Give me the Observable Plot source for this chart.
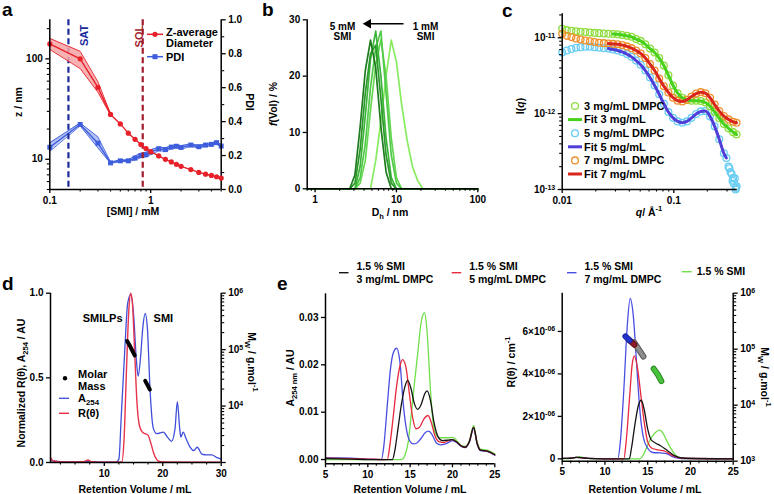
<!DOCTYPE html>
<html><head><meta charset="utf-8">
<script src="https://cdn.jsdelivr.net/npm/d3@7"></script>
<script src="https://cdn.jsdelivr.net/npm/@observablehq/plot@0.6"></script>
<style>
body{margin:0;background:#fff}
#root{position:relative;width:774px;height:494px;overflow:hidden;background:#fff;font-family:"Liberation Sans",Arial,Helvetica,sans-serif;font-weight:bold}
</style>
</head><body><div id="root"></div>
<script>
// ================= DATA =================
// Panel a : DLS vs [SMI]
const smiConc  = [0.1,0.2,0.3,0.4,0.5,0.6,0.7,0.8,0.9,1.0,1.2,1.4,1.6,1.8,2.0,2.5,3.0,3.5,4.0,4.5,5.0];
const zAvg     = [141,100,52,28,22.5,18.2,15.8,14.0,12.8,11.9,10.8,10.0,9.4,8.9,8.5,7.9,7.4,7.1,6.9,6.7,6.5];
const zBandConc= [0.1,0.2,0.3,0.4];
const zHigh    = [160,119,59,28.5];
const zLow     = [124,80,46.5,27.5];
const pdi      = [0.249,0.383,0.273,0.157,0.169,0.169,0.185,0.200,0.205,0.220,0.240,0.235,0.250,0.255,0.248,0.262,0.252,0.262,0.266,0.276,0.256];
const pdiHigh  = [0.275,0.392,0.310,0.162,0.175,0.175,0.198,0.214,0.220,0.234,0.250,0.246,0.258,0.264,0.258,0.270,0.260,0.270,0.274,0.284,0.264];
const pdiLow   = [0.225,0.375,0.245,0.154,0.164,0.164,0.174,0.188,0.192,0.206,0.228,0.225,0.240,0.246,0.238,0.254,0.244,0.254,0.258,0.268,0.248];
const satConc = 0.153, solConc = 0.834;

// Panel b : volume distributions (1 mM -> 5 mM SMI)
const dhBins = [0.8,2.305,2.67,3.091,3.58,4.145,4.801,5.56,6.439,7.456,8.635,10.0,11.58,13.54,15.69,18.17,21.04,100];
const volDist = [
  [0,0,0,2.5,11,21,26.4,21.5,11,3,0,0,0,0,0,0,0,0],
  [0,0,0,1,7,17,24,25.5,16,6,1,0,0,0,0,0,0,0],
  [0,0,0,0,4,13,23,28,20,9,2,0,0,0,0,0,0,0],
  [0,0,0,0,2,8,18,25,28,17,6,1,0,0,0,0,0,0],
  [0,0,0,0,1,5,14,22,26.5,20,9,2,0,0,0,0,0,0],
  [0,0,0,0,0,0,0,5,12,20,26.4,22.5,15,8.6,4,1.5,0,0]
];

// Panel c : SANS, I(q) in units of 1e-12
const qGrid = [0.0100,0.0110,0.0121,0.0133,0.0146,0.0161,0.0177,0.0195,0.0214,0.0236,0.0259,0.0285,0.0314,0.0345,0.0380,0.0418,0.0459,0.0505,0.0556,0.0612,0.0673,0.0740,0.0814,0.0895,0.0985,0.1083,0.1192,0.1311,0.1442,0.1586,0.1745,0.1919,0.2111,0.2322,0.2555,0.2810,0.3091,0.3400,0.3650];
const iq3 = [13.1,12.6,12.4,12.2,12.0,11.9,11.7,11.6,11.5,11.4,11.3,11.2,11.1,10.9,10.6,10.3,9.6,9.1,8.2,7.2,6.4,5.4,4.3,3.2,2.35,1.86,1.62,1.52,1.48,1.48,1.47,1.40,1.25,1.05,0.87,0.73,0.64,0.57,0.53];
const iq5 = [6.4,6.8,7.1,7.4,7.5,7.6,7.6,7.5,7.4,7.3,7.2,7.0,6.8,6.5,6.1,5.6,5.0,4.4,3.7,3.0,2.35,1.8,1.35,1.05,0.88,0.79,0.76,0.79,0.88,0.99,1.07,1.08,0.92,0.68,0.46,0.30,0.20,0.14,0.11];
const iq7 = [11.3,10.6,10.2,9.8,9.5,9.2,9.0,8.8,8.6,8.5,8.4,8.3,8.2,8.0,7.7,7.3,6.8,6.2,5.4,4.5,3.7,2.9,2.3,1.9,1.62,1.48,1.45,1.52,1.68,1.84,1.92,1.86,1.62,1.32,1.08,0.93,0.84,0.78,0.76];
const qTail5 = [0.296,0.315,0.322,0.330,0.336,0.345,0.352,0.358,0.362];
const iqTail5 = [0.26,0.19,0.17,0.16,0.13,0.12,0.14,0.10,0.105];
const fitStart3 = 0.028, fitStart5 = 0.025, fitStart7 = 0.025, fitEnd5 = 0.29;

// Panel d : SEC-MALS of SMILPs  [mL, value]
const dA254 = [[0.8,0.01],[3,0.005],[5,0.003],[7,0.005],[10,0.002],[12,0.002],[12.5,0.02],[12.9,0.27],[13.5,0.66],[14.0,0.94],[14.5,0.99],[15.0,0.88],[15.5,0.6],[15.8,0.51],[16.2,0.62],[16.6,0.8],[17.0,0.88],[17.4,0.78],[17.8,0.45],[18.4,0.2],[19.0,0.17],[20.1,0.18],[20.8,0.15],[21.5,0.125],[22.1,0.2],[22.5,0.36],[22.9,0.2],[23.1,0.15],[23.5,0.18],[24.0,0.14],[24.7,0.09],[25.3,0.07],[25.9,0.09],[26.7,0.05],[27.5,0.045],[28.4,0.045],[29.2,0.03],[30,0.02]];
const dRtheta = [[0.8,0.03],[1.2,0.01],[3,0.003],[6.5,0.005],[7.2,0.015],[7.8,0.005],[10,0.002],[13.0,0.003],[13.4,0.15],[13.8,0.55],[14.2,0.9],[14.5,1.0],[14.8,0.95],[15.2,0.65],[15.6,0.35],[16.0,0.22],[16.5,0.18],[17.0,0.17],[17.5,0.16],[18.0,0.11],[18.5,0.05],[19.2,0.01],[20,0.003],[30,0.002]];
const dMolarSMILP = [[13.9,142000],[14.3,121000],[14.7,100000],[15.2,79000]];
const dMolarSMI   = [[17.0,28000],[17.4,23500],[17.8,19600]];
const dLabels = [{x:9.72,y:0.85,t:"SMILPs"},{x:20.1,y:0.85,t:"SMI"}];

// Panel e : A254 nm [mL, AU]
const eA3 = [[5,0.0002],[8,0.0001],[10,0],[12.9,0],[13.2,0.002],[13.6,0.007],[14.0,0.012],[14.4,0.0155],[14.7,0.0167],[15.1,0.015],[15.5,0.0118],[15.9,0.0106],[16.3,0.0116],[16.7,0.0138],[17.0,0.0145],[17.4,0.0125],[17.8,0.008],[18.3,0.0048],[18.8,0.004],[19.5,0.0041],[20.0,0.0042],[20.5,0.0037],[21.0,0.0029],[21.5,0.0026],[22.0,0.0038],[22.5,0.0068],[22.9,0.0035],[23.3,0.002],[24.1,0.0018],[25,0.001]];
const eA5 = [[5,0.0003],[8,0.0002],[10,0.0001],[12.3,0],[12.6,0.003],[13.0,0.009],[13.4,0.0155],[13.8,0.0198],[14.1,0.0211],[14.5,0.0195],[14.9,0.014],[15.3,0.0088],[15.7,0.0065],[16.1,0.0068],[16.6,0.0085],[17.1,0.0093],[17.5,0.0078],[17.9,0.0052],[18.4,0.0038],[19.0,0.0036],[19.5,0.004],[20,0.0042],[20.5,0.0037],[21,0.0029],[21.5,0.0026],[22,0.0038],[22.5,0.0068],[22.9,0.0035],[23.3,0.002],[24.1,0.0018],[25,0.001]];
const eA7 = [[5,0.0004],[8,0.0003],[10,0.0001],[11.6,0],[11.9,0.003],[12.3,0.0115],[12.7,0.0195],[13.0,0.0225],[13.4,0.0235],[13.8,0.0205],[14.2,0.0115],[14.6,0.006],[15.0,0.0038],[15.4,0.0033],[15.8,0.0035],[16.3,0.0045],[16.8,0.0057],[17.2,0.006],[17.6,0.0052],[18.1,0.0035],[18.6,0.0031],[19.2,0.0033],[20,0.004],[20.5,0.0036],[21,0.0028],[21.5,0.0025],[22,0.0037],[22.5,0.0066],[22.9,0.0034],[23.3,0.0019],[24.1,0.0017],[25,0.0009]];
const eASMI = [[5,0],[10,0],[14.0,0],[14.4,0.001],[14.8,0.004],[15.1,0.009],[15.5,0.016],[15.9,0.0225],[16.3,0.029],[16.7,0.031],[17.0,0.027],[17.4,0.0146],[17.7,0.008],[18.0,0.0055],[18.5,0.0046],[19.5,0.0046],[20,0.0047],[20.5,0.004],[21,0.003],[21.5,0.0028],[22,0.004],[22.5,0.0072],[22.9,0.0038],[23.3,0.0022],[24.1,0.002],[25,0.0012]];
// Panel e : R(theta) [mL, 1e-6 cm^-1]
const eR3 = [[5,0.02],[6,0.03],[6.6,0.07],[7.2,0.06],[8,0.02],[10,0],[12.85,0],[13.1,0.5],[13.5,1.6],[13.9,2.5],[14.25,2.76],[14.6,2.3],[15.0,1.4],[15.4,0.9],[15.9,0.75],[16.5,0.62],[17.1,0.45],[17.6,0.3],[18.2,0.14],[19,0.04],[25,0]];
const eR5 = [[5,0.02],[6,0.03],[6.6,0.07],[7.2,0.06],[8,0.02],[10,0],[12.2,0],[12.5,0.9],[12.9,3.0],[13.2,4.5],[13.45,4.85],[13.8,4.3],[14.2,3.0],[14.6,1.7],[15.0,0.8],[15.5,0.5],[16.2,0.42],[16.9,0.38],[17.5,0.25],[18.2,0.1],[19,0.03],[25,0]];
const eR7 = [[5,0.02],[6,0.03],[6.6,0.07],[7.2,0.06],[8,0.02],[10,0],[11.5,0],[11.8,0.8],[12.2,3.2],[12.6,6.2],[12.95,7.55],[13.3,6.8],[13.7,4.5],[14.1,2.2],[14.5,1.0],[15.0,0.5],[15.6,0.3],[16.5,0.28],[17.2,0.25],[17.8,0.12],[18.5,0.04],[19.5,0.01],[25,0]];
const eRSMI = [[5,0],[6.5,0.05],[7.0,0.1],[7.5,0.06],[8.5,0],[14.1,0],[14.5,0.2],[15.0,0.65],[15.5,1.05],[16.0,1.28],[16.4,1.35],[16.8,1.2],[17.2,0.87],[17.7,0.5],[18.2,0.2],[18.7,0.07],[19.5,0.01],[25,0]];
const eM7 = [[12.4,169000],[12.9,143000]];
const eM5 = [[12.9,143000],[13.45,120000]];
const eM3 = [[13.4,133000],[14.5,74000]];
const eMSMI = [[15.7,44700],[16.2,35000],[16.6,26900]];

// ================= DRAWING =================
const W = 774, H = 494;
const FONT = '"Liberation Sans", Arial, Helvetica, sans-serif';
const root = document.getElementById("root");
const SVGNS = "http://www.w3.org/2000/svg";
// turn "base^exp" tick strings into real superscripts
function superscripts(svg) {
  svg.querySelectorAll("text").forEach(t => {
    const s = t.textContent;
    if (!s.includes("^")) return;
    const [base, exp] = s.split("^");
    t.textContent = "";
    const a = document.createElementNS(SVGNS, "tspan"); a.textContent = base; t.appendChild(a);
    const b = document.createElementNS(SVGNS, "tspan"); b.textContent = exp;
    b.setAttribute("dy", "-0.45em"); b.setAttribute("font-size", "7px"); t.appendChild(b);
  });
}
function panel(frame, opts) {
  const [L, T, R, B] = frame;
  const svg = Plot.plot({
    width: W, height: H,
    marginLeft: L, marginTop: T, marginRight: W - R, marginBottom: H - B,
    style: {position: "absolute", left: "0px", top: "0px", background: "transparent", overflow: "visible",
            fontFamily: FONT, fontWeight: "bold", fontSize: "10px", color: "#000"},
    ...opts
  });
  superscripts(svg);
  root.appendChild(svg);
  return svg;
}
const AX = {tickSize: 4, tickPadding: 3, strokeWidth: 1.3, label: null};
const MIN = {tickSize: 2.5, tickPadding: 0, strokeWidth: 1.1, label: null, tickFormat: () => ""};
const LINE = {stroke: "#000", strokeWidth: 1.5};
const XY = {x: d => d[0], y: d => d[1]};

// ---- Panel a ----
const fA = [49.3, 19.3, 220.7, 189];
const RED = "#e8202a", BLUE = "#3d5ddc";
const pdiRows = smiConc.map((c, i) => ({c, v: pdi[i], lo: pdiLow[i], hi: pdiHigh[i]}));
panel(fA, {
  x: {type: "log", domain: [0.1, 5], axis: null},
  y: {domain: [0, 1]},
  marks: [
    Plot.areaY(pdiRows, {x: "c", y1: "lo", y2: "hi", fill: "#a7b6f0", fillOpacity: 0.85}),
    Plot.line(pdiRows, {x: "c", y: "hi", stroke: BLUE, strokeWidth: 0.9}),
    Plot.line(pdiRows, {x: "c", y: "lo", stroke: BLUE, strokeWidth: 0.9}),
    Plot.line(pdiRows, {x: "c", y: "v", stroke: BLUE, strokeWidth: 1.4}),
    Plot.dot(pdiRows, {x: "c", y: "v", symbol: "square", r: 2.8, fill: BLUE}),
    Plot.ruleX([5], LINE),
    Plot.axisY({...AX, anchor: "right", ticks: [0, 0.2, 0.4, 0.6, 0.8, 1.0], tickFormat: d3.format(".1f")}),
    Plot.axisY({...MIN, anchor: "right", ticks: [0.1, 0.3, 0.5, 0.7, 0.9]})
  ]
});
const zRows = smiConc.map((c, i) => ({c, v: zAvg[i]}));
const zBand = zBandConc.map((c, i) => ({c, lo: zLow[i], hi: zHigh[i]}));
panel(fA, {
  x: {type: "log", domain: [0.1, 5]},
  y: {type: "log", domain: [5, 245]},
  marks: [
    Plot.ruleX([satConc], {stroke: "#1c2b9c", strokeWidth: 2.2, strokeDasharray: "6,3.5"}),
    Plot.ruleX([solConc], {stroke: "#a11c2c", strokeWidth: 2.2, strokeDasharray: "6,3.5"}),
    Plot.text([satConc], {x: d => d, text: () => "SAT", frameAnchor: "top", rotate: -90, textAnchor: "end", dx: 12, dy: 5, fill: "#1c2b9c", fontSize: 11, fontWeight: "bold"}),
    Plot.text([solConc], {x: d => d, text: () => "SOL", frameAnchor: "top", rotate: -90, textAnchor: "end", dx: -7.5, dy: 5, fill: "#a11c2c", fontSize: 11, fontWeight: "bold"}),
    Plot.areaY(zBand, {x: "c", y1: "lo", y2: "hi", fill: "#f4a3a6", fillOpacity: 0.85}),
    Plot.line(zBand, {x: "c", y: "hi", stroke: RED, strokeWidth: 0.9}),
    Plot.line(zBand, {x: "c", y: "lo", stroke: RED, strokeWidth: 0.9}),
    Plot.line(zRows, {x: "c", y: "v", stroke: RED, strokeWidth: 1.4}),
    Plot.dot(zRows, {x: "c", y: "v", r: 2.6, fill: RED}),
    Plot.ruleX([0.1], LINE), Plot.ruleY([5], LINE),
    Plot.axisX({...AX, ticks: [0.1, 1], tickFormat: d => String(d)}),
    Plot.axisX({...MIN, ticks: [0.2,0.3,0.4,0.5,0.6,0.7,0.8,0.9,2,3,4,5]}),
    Plot.axisY({...AX, ticks: [10, 100], tickFormat: d => String(d)}),
    Plot.axisY({...MIN, ticks: [5,6,7,8,9,20,30,40,50,60,70,80,90,200]})
  ]
});

// ---- Panel b ----
const fB = [306.7, 19.3, 477.3, 188.3];
const greens = ["#1e7b1e", "#2b9a2b", "#3cb43a", "#52c84a", "#66d853", "#88ec60"];
const bMarks = [];
for (let k = volDist.length - 1; k >= 0; k--) {
  bMarks.push(Plot.line(dhBins.map((d, i) => [d, volDist[k][i]]), {...XY, stroke: greens[k], strokeWidth: 1.7}));
}
panel(fB, {
  x: {type: "log", domain: [0.8, 100]},
  y: {domain: [0, 30]},
  marks: [
    ...bMarks,
    Plot.ruleY([29.3], {x1: 12.4, x2: 4.6, stroke: "#000", strokeWidth: 1.6}),
    Plot.dot([4.5], {x: d => d, y: () => 29.3, symbol: "triangle2", r: 4.6, rotate: -90, fill: "#000"}),
    Plot.text([{x: 2.17, t: "5 mM\nSMI"}, {x: 22.8, t: "1 mM\nSMI"}], {x: "x", y: () => 27.9, text: "t", fontSize: 10, fontWeight: "bold", lineHeight: 1.07}),
    Plot.ruleX([0.8], LINE), Plot.ruleY([0], LINE),
    Plot.axisX({...AX, ticks: [1, 10, 100], tickFormat: d => String(d)}),
    Plot.axisX({...MIN, ticks: [0.8,0.9,2,3,4,5,6,7,8,9,20,30,40,50,60,70,80,90]}),
    Plot.axisY({...AX, ticks: [0, 10, 20, 30], tickFormat: d => String(d)})
  ]
});

// ---- Panel c ----
const fC = [561.7, 13.3, 736.7, 189];
const cRows = (arr) => qGrid.map((q, i) => [q, arr[i]]);
const circ = (data, color) => Plot.dot(data, {...XY, r: 3.4, stroke: color, strokeWidth: 1.3, fill: "none"});
panel(fC, {
  x: {type: "log", domain: [0.01, 0.37]},
  y: {type: "log", domain: [0.1, 20.7]},
  marks: [
    circ(cRows(iq5), "#68cdf2"),
    circ(qTail5.map((q, i) => [q, iqTail5[i]]), "#68cdf2"),
    circ(cRows(iq3), "#8fdd3f"),
    circ(cRows(iq7), "#f0902c"),
    Plot.line(cRows(iq3).filter(d => d[0] >= fitStart3), {...XY, stroke: "#47d11a", strokeWidth: 3, curve: "monotone-x"}),
    Plot.line(cRows(iq5).filter(d => d[0] >= fitStart5 && d[0] <= fitEnd5).concat([[qTail5[0], iqTail5[0]]]), {...XY, stroke: "#4f3ed8", strokeWidth: 3, curve: "monotone-x"}),
    Plot.line(cRows(iq7).filter(d => d[0] >= fitStart7), {...XY, stroke: "#d9261d", strokeWidth: 3, curve: "monotone-x"}),
    Plot.ruleX([0.01], LINE), Plot.ruleY([0.1], LINE),
    Plot.axisX({...AX, ticks: [0.01, 0.1], tickFormat: d => String(d)}),
    Plot.axisX({...MIN, ticks: [0.02,0.03,0.04,0.05,0.06,0.07,0.08,0.09,0.2,0.3]}),
    Plot.axisY({...AX, ticks: [0.1, 1, 10], tickFormat: d => d < 0.5 ? "10^-13" : d < 5 ? "10^-12" : "10^-11"}),
    Plot.axisY({...MIN, ticks: [0.2,0.3,0.4,0.5,0.6,0.7,0.8,0.9,2,3,4,5,6,7,8,9,20]})
  ]
});

// ---- Panel d ----
const fD = [50, 292.7, 220.7, 462];
panel(fD, {
  x: {domain: [0.8, 30]},
  y: {domain: [0, 1]},
  marks: [
    Plot.line(dA254, {...XY, stroke: "#3f4fd9", strokeWidth: 1.3, curve: "monotone-x"}),
    Plot.line(dRtheta, {...XY, stroke: "#e8334c", strokeWidth: 1.4, curve: "monotone-x"}),
    Plot.text(dLabels, {x: "x", y: "y", text: "t", fontSize: 11, fontWeight: "bold"}),
    Plot.ruleX([0.8], LINE), Plot.ruleY([0], LINE),
    Plot.axisX({...AX, ticks: [10, 20, 30], tickFormat: d => String(d)}),
    Plot.axisX({...MIN, ticks: [2.5,5,7.5,12.5,15,17.5,22.5,25,27.5]}),
    Plot.axisY({...AX, ticks: [0, 0.5, 1], tickFormat: d3.format(".1f")})
  ]
});
const logMinor = [2e3,3e3,4e3,5e3,6e3,7e3,8e3,9e3,2e4,3e4,4e4,5e4,6e4,7e4,8e4,9e4,2e5,3e5,4e5,5e5,6e5,7e5,8e5,9e5];
const powLabel = d => "10^" + Math.round(Math.log10(d));
panel(fD, {
  x: {domain: [0.8, 30], axis: null},
  y: {type: "log", domain: [1e3, 1e6]},
  marks: [
    Plot.line(dMolarSMILP, {...XY, stroke: "#000", strokeWidth: 4, strokeLinecap: "round"}),
    Plot.line(dMolarSMI, {...XY, stroke: "#000", strokeWidth: 4, strokeLinecap: "round"}),
    Plot.ruleX([30], LINE),
    Plot.axisY({...AX, anchor: "right", ticks: [1e3, 1e4, 1e5, 1e6], tickFormat: d => d < 2e3 ? "" : powLabel(d)}),
    Plot.axisY({...MIN, anchor: "right", ticks: logMinor})
  ]
});

// ---- Panel e (left) ----
const fE1 = [325, 293.3, 494.3, 463.3];
const eMinor = [6,7,8,9,11,12,13,14,16,17,18,19,21,22,23,24];
const cBlack = "#141414", cRed = "#e8283c", cBlue = "#4a4fe0", cGreen = "#6fe04a";
panel(fE1, {
  x: {domain: [5, 25]},
  y: {domain: [-0.0009, 0.035]},
  marks: [
    Plot.line(eASMI, {...XY, stroke: cGreen, strokeWidth: 1.3, curve: "monotone-x"}),
    Plot.line(eA7, {...XY, stroke: cBlue, strokeWidth: 1.3, curve: "monotone-x"}),
    Plot.line(eA5, {...XY, stroke: cRed, strokeWidth: 1.3, curve: "monotone-x"}),
    Plot.line(eA3, {...XY, stroke: cBlack, strokeWidth: 1.3, curve: "monotone-x"}),
    Plot.ruleX([5], LINE), Plot.ruleY([-0.0009], LINE),
    Plot.axisX({...AX, ticks: [5, 10, 15, 20, 25], tickFormat: d => String(d)}),
    Plot.axisX({...MIN, ticks: eMinor}),
    Plot.axisY({...AX, ticks: [0, 0.01, 0.02, 0.03], tickFormat: d3.format(".2f")})
  ]
});

// ---- Panel e (right) ----
const fE2 = [561.7, 292.7, 732.7, 460.7];
panel(fE2, {
  x: {domain: [5, 25]},
  y: {domain: [-0.11, 7.8]},
  marks: [
    Plot.line(eRSMI, {...XY, stroke: cGreen, strokeWidth: 1.3, curve: "monotone-x"}),
    Plot.line(eR7, {...XY, stroke: cBlue, strokeWidth: 1.3, curve: "monotone-x"}),
    Plot.line(eR5, {...XY, stroke: cRed, strokeWidth: 1.3, curve: "monotone-x"}),
    Plot.line(eR3, {...XY, stroke: cBlack, strokeWidth: 1.3, curve: "monotone-x"}),
    Plot.ruleX([5], LINE), Plot.ruleY([-0.11], LINE),
    Plot.axisX({...AX, ticks: [5, 10, 15, 20, 25], tickFormat: d => String(d)}),
    Plot.axisX({...MIN, ticks: eMinor}),
    Plot.axisY({...AX, ticks: [0, 2, 4, 6], tickFormat: d => d === 0 ? "0" : d + "\u00D710^-06"})
  ]
});
const seg = (data, fill, edge) => [
  Plot.line(data, {...XY, stroke: edge, strokeWidth: 6, strokeLinecap: "round"}),
  Plot.line(data, {...XY, stroke: fill, strokeWidth: 4, strokeLinecap: "round"})
];
panel(fE2, {
  x: {domain: [5, 25], axis: null},
  y: {type: "log", domain: [1e3, 1e6]},
  marks: [
    ...seg(eM3, "#8e8e8e", "#5a5a5a"),
    ...seg(eM5, "#8c1d28", "#6a121a"),
    ...seg(eM7, "#2233cc", "#18229a"),
    ...seg(eMSMI, "#47c23a", "#2b8a22"),
    Plot.ruleX([25], LINE),
    Plot.axisY({...AX, anchor: "right", ticks: [1e3, 1e4, 1e5, 1e6], tickFormat: powLabel}),
    Plot.axisY({...MIN, anchor: "right", ticks: logMinor})
  ]
});

// ================= TEXT OVERLAY (titles, legends, panel letters) =================
const ov = d3.select(root).append("svg").attr("width", W).attr("height", H)
  .style("position", "absolute").style("left", "0px").style("top", "0px").style("overflow", "visible")
  .attr("font-family", FONT).attr("font-weight", "bold");
function rich(x, y, parts, o = {}) {
  const size = o.size || 10;
  const t = ov.append("text")
    .attr("transform", `translate(${x},${y}) rotate(${o.rotate || 0})`)
    .attr("y", size * 0.35)
    .attr("text-anchor", o.anchor || "middle")
    .attr("font-size", size).attr("fill", o.fill || "#000");
  let shift = 0;
  for (const p of parts) {
    const [str, mode] = Array.isArray(p) ? p : [p, ""];
    const target = mode === "sub" ? size * 0.3 : mode === "sup" ? -size * 0.42 : 0;
    const s = t.append("tspan").text(str);
    if (target - shift !== 0) s.attr("dy", target - shift);
    if (mode === "sub" || mode === "sup") s.attr("font-size", size * 0.72);
    if (mode === "it") s.attr("font-style", "italic");
    shift = target;
  }
  return t;
}
const seg2 = (x1, x2, y, color, w = 1.6) => ov.append("line").attr("x1", x1).attr("x2", x2).attr("y1", y).attr("y2", y).attr("stroke", color).attr("stroke-width", w);

// panel letters
rich(2, 9, ["a"], {anchor: "start", size: 19});
rich(262, 9, ["b"], {anchor: "start", size: 19});
rich(502, 10, ["c"], {anchor: "start", size: 19});
rich(2, 283, ["d"], {anchor: "start", size: 19});
rich(277, 283, ["e"], {anchor: "start", size: 19});

// axis titles
rich(18, 102, ["z / nm"], {rotate: -90, size: 10.5});
rich(250, 102, ["PDI"], {rotate: 90, size: 10.5});
rich(133, 211, ["[SMI] / mM"], {size: 10.5});
rich(273, 104, [["f", "it"], "(Vol) / %"], {rotate: -90, size: 10.5});
rich(390, 212, ["D", ["h", "sub"], " / nm"], {size: 10.5});
rich(520, 106, ["I(", ["q", "it"], ")"], {rotate: -90, size: 10.5});
rich(649, 212, [["q", "it"], "/ \u00C5", ["-1", "sup"]], {size: 10.5});
rich(21, 383, ["Normalized R(\u03B8), A", ["254", "sub"], " / AU"], {rotate: -90, size: 10.5});
rich(252, 362, ["M", ["W", "sub"], " / g.mol", ["-1", "sup"]], {rotate: 90, size: 10.5});
rich(135, 489, ["Retention Volume / mL"], {size: 10.5});
rich(290, 378, ["A", ["254 nm", "sub"], " / AU"], {rotate: -90, size: 10.5});
rich(410, 489, ["Retention Volume / mL"], {size: 10.5});
rich(511, 362, ["R(\u03B8) / cm", ["-1", "sup"]], {rotate: -90, size: 10.5});
rich(765, 377, ["M", ["W", "sub"], " / g.mol", ["-1", "sup"]], {rotate: 90, size: 10.5});
rich(645, 489, ["Retention Volume / mL"], {size: 10.5});

// legend a
seg2(147, 163, 34.3, RED, 1.5);
ov.append("circle").attr("cx", 155).attr("cy", 34.3).attr("r", 2.6).attr("fill", RED);
rich(166, 31.7, ["Z-average"], {anchor: "start", size: 11});
rich(166, 42.9, ["Diameter"], {anchor: "start", size: 11});
seg2(147, 163, 56.7, BLUE, 1.5);
ov.append("rect").attr("x", 152.5).attr("y", 54.2).attr("width", 5).attr("height", 5).attr("fill", BLUE);
rich(166, 56.7, ["PDI"], {anchor: "start", size: 11});

// legend c
const cLeg = [
  {t: "3 mg/mL DMPC", c: "#8fdd3f", k: "o"}, {t: "Fit 3 mg/mL", c: "#47d11a", k: "l"},
  {t: "5 mg/mL DMPC", c: "#68cdf2", k: "o"}, {t: "Fit 5 mg/mL", c: "#4f3ed8", k: "l"},
  {t: "7 mg/mL DMPC", c: "#f0902c", k: "o"}, {t: "Fit 7 mg/mL", c: "#d9261d", k: "l"}
];
cLeg.forEach((e, i) => {
  const y = 106 + i * 13.6;
  if (e.k === "o") ov.append("circle").attr("cx", 575).attr("cy", y).attr("r", 3.4).attr("fill", "none").attr("stroke", e.c).attr("stroke-width", 1.3);
  else seg2(568, 582, y, e.c, 3);
  rich(584, y, [e.t], {anchor: "start", size: 11});
});

// legend d
ov.append("circle").attr("cx", 65).attr("cy", 378.3).attr("r", 2.2).attr("fill", "#000");
rich(78, 374, ["Molar"], {anchor: "start", size: 11});
rich(78, 386, ["Mass"], {anchor: "start", size: 11});
seg2(59, 69, 398.3, "#3f4fd9", 1.3);
rich(78, 398.3, ["A", ["254", "sub"]], {anchor: "start", size: 11});
seg2(59, 69, 413.3, "#e8334c", 1.5);
rich(78, 413.3, ["R(\u03B8)"], {anchor: "start", size: 11});

// legend e
const eLeg = [
  {x: 339, c: cBlack, l: ["1.5 % SMI", "3 mg/mL DMPC"]},
  {x: 451.7, c: cRed, l: ["1.5 % SMI", "5 mg/mL DMPC"]},
  {x: 567, c: cBlue, l: ["1.5 % SMI", "7 mg/mL DMPC"]},
  {x: 681.7, c: cGreen, l: ["1.5 % SMI"]}
];
eLeg.forEach(e => {
  if (e.l.length === 2) {
    seg2(e.x, e.x + 9.5, 272.7, e.c, 1.4);
    rich(e.x + 17.5, 266.7, [e.l[0]], {anchor: "start", size: 10.5});
    rich(e.x + 17.5, 279.3, [e.l[1]], {anchor: "start", size: 10.5});
  } else {
    seg2(e.x, e.x + 10, 271.7, e.c, 1.4);
    rich(e.x + 15, 271.7, [e.l[0]], {anchor: "start", size: 10.5});
  }
});
</script></body></html>
